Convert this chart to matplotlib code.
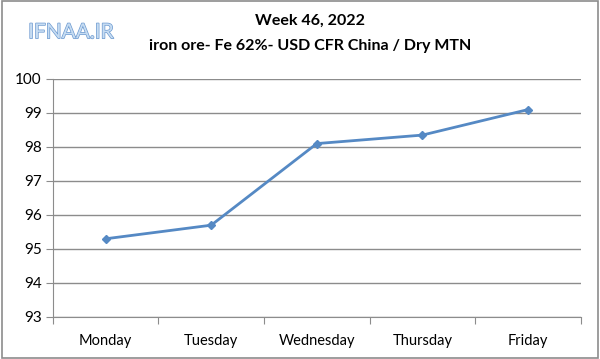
import matplotlib
matplotlib.use("Agg")
import matplotlib.pyplot as plt
from matplotlib.patches import Rectangle
import matplotlib.patheffects as pe

days = ["Monday", "Tuesday", "Wednesday", "Thursday", "Friday"]
prices = [95.3, 95.7, 98.1, 98.35, 99.1]
yticks = [93, 94, 95, 96, 97, 98, 99, 100]

plt.rcParams['font.family'] = ['Lato', 'DejaVu Sans']

fig = plt.figure(figsize=(6, 3.59), dpi=100)
fig.patch.set_facecolor("white")
fig.patches.append(Rectangle((0.003, 0.004), 0.994, 0.992, transform=fig.transFigure,
                             fill=False, edgecolor="#8c8c8c", linewidth=1.2))

ax = fig.add_axes([0.088, 0.117, 0.88, 0.663])
x = list(range(len(days)))
ax.plot(x, prices, color="#5589c4", linewidth=2, marker="D", markersize=4.5,
        markerfacecolor="#5589c4", markeredgecolor="#5589c4", zorder=3)

ax.set_xlim(-0.5, len(days) - 0.5)
ax.set_ylim(93, 100)
ax.set_yticks(yticks)
ax.set_yticklabels([str(v) for v in yticks], fontsize=11)
ax.grid(axis="y", color="#8c8c8c", linewidth=1)
ax.set_axisbelow(True)

ax.set_xticks([i - 0.5 for i in range(len(days) + 1)])
ax.set_xticklabels([])
ax.set_xticks(x, minor=True)
ax.set_xticklabels(days, minor=True, fontsize=10.5)
ax.tick_params(axis="x", which="minor", length=0, pad=12)
ax.tick_params(axis="x", which="major", length=5, color="#8c8c8c", direction="out")
ax.tick_params(axis="y", length=5, color="#8c8c8c", pad=3)

for s in ["top", "right"]:
    ax.spines[s].set_visible(False)
ax.spines["left"].set_color("#8c8c8c")
ax.spines["bottom"].set_color("#8c8c8c")

fig.text(0.517, 0.942, "Week 46, 2022", ha="center", va="center", fontsize=11.5, fontweight="bold")
fig.text(0.517, 0.872, "iron ore- Fe 62%- USD CFR China / Dry MTN", ha="center", va="center",
         fontsize=11.5, fontweight="bold")
fig.text(0.118, 0.91, "IFNAA.IR", ha="center", va="center", fontsize=15, color="#c6dcf2",
         path_effects=[pe.withStroke(linewidth=1.0, foreground="#6d9ad0")])

fig.savefig("out.png", dpi=100)
